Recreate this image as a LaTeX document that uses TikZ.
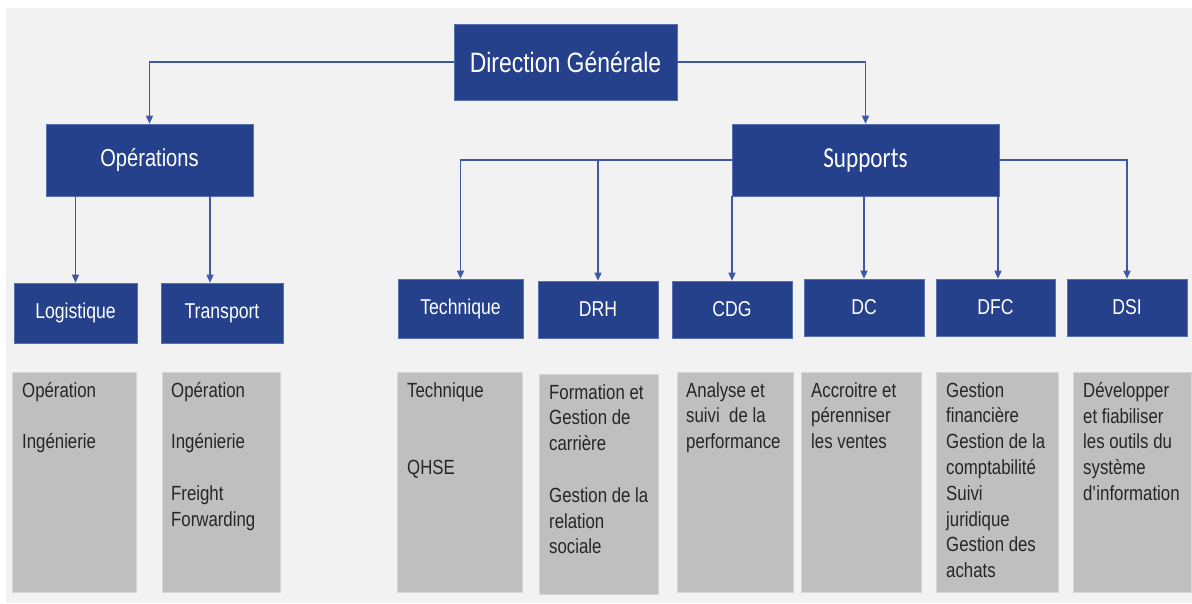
\documentclass[tikz,border=0pt]{standalone}
\usepackage{fontspec}
\setmainfont{Liberation Sans}[FakeStretch=0.82]
\newfontfamily\calibri{Carlito}[FakeStretch=0.8]
\definecolor{bleudir}{RGB}{ 38, 65,140}
\definecolor{bleulien}{RGB}{ 63, 88,165}
\definecolor{bordbleu}{RGB}{ 88,112,176}
\definecolor{fondgris}{RGB}{242,242,242}
\definecolor{boitegris}{RGB}{191,191,191}
\definecolor{bordgris}{RGB}{214,214,214}
\definecolor{encre}{RGB}{ 38, 38, 38}
\usetikzlibrary{arrows.meta, positioning}

\begin{document}
\begin{tikzpicture}[
    x = 1pt, y = -1pt,
 chef/.style = {rectangle, draw=bordbleu, line width=0.6pt, fill=bleudir,
                text=white, inner sep=0pt, minimum width=#1},
 pole/.style = {chef=#1, minimum height=57pt,
                font=\fontsize{21.5}{26}\selectfont},
tache/.style = {rectangle, draw=bordgris, line width=0.6pt, fill=boitegris,
                anchor=north west, inner sep=0pt, minimum width=#1,
                minimum height=220pt},
liste/.style = {anchor=north west, align=left, inner sep=0pt, text=encre,
                font=\fontsize{20.5}{25.8}\selectfont},
 lien/.style = {draw=bleulien, line width=1.4pt,
                -{Triangle[width=7pt,length=8pt]}}
                 ]

\fill[white] (0,0) rectangle (1192,603);
\fill[fondgris] (6,8) rectangle (1192,603);
\useasboundingbox (0,0) rectangle (1192,603);

\node[chef=223, minimum height=76pt, font=\fontsize{28}{32}\selectfont]
     (dg) at (565.5,62) {Direction Générale};
\node[chef=207, minimum height=72pt, font=\fontsize{24.5}{28}\selectfont]
     (ops) at (149.5,160) {Opérations};
\node[chef=267, minimum height=72pt, font=\calibri\fontsize{29}{32}\selectfont]
     (sup) at (865.5,160) {Supports};

\node[pole=123, minimum height=60pt] (log) at (75.5,313)   {Logistique};
\node[pole=122, minimum height=60pt] (trp) at (222,313)    {Transport};
\node[pole=125, minimum height=59pt] (tec) at (460.5,308.5) {Technique};
\node[pole=120] (drh) at (598,309.5)  {DRH};
\node[pole=120] (cdg) at (732,309.5)  {CDG};
\node[pole=120] (dc)  at (864,307.5)  {DC};
\node[pole=119] (dfc) at (995.5,307.5) {DFC};
\node[pole=120] (dsi) at (1127,307.5) {DSI};

\node[tache=124] (logT) at (12,372)  {};
\node[tache=118] (trpT) at (162,372) {};
\node[tache=125] (tecT) at (397,372) {};
\node[tache=119] (drhT) at (539,374) {};
\node[tache=116] (cdgT) at (677,372) {};
\node[tache=120] (dcT)  at (801,372) {};
\node[tache=122] (dfcT) at (936,372) {};
\node[tache=118] (dsiT) at (1073,372) {};

\node[liste] (logL) at ([xshift=10pt,yshift=-10pt]logT.north west)
     {Opération\\[25.8pt]Ingénierie};
\node[liste] (trpL) at ([xshift=9pt,yshift=-10pt]trpT.north west)
     {Opération\\[25.8pt]Ingénierie\\[25.8pt]Freight\\Forwarding};
\node[liste] (tecL) at ([xshift=10pt,yshift=-10pt]tecT.north west)
     {Technique\\[51.6pt]QHSE};
\node[liste] (drhL) at ([xshift=10pt,yshift=-10pt]drhT.north west)
     {Formation et\\Gestion de\\carrière\\[25.8pt]Gestion de la\\relation\\sociale};
\node[liste] (cdgL) at ([xshift=9pt,yshift=-10pt]cdgT.north west)
     {Analyse et\\suivi\ \ de la\\performance};
\node[liste] (dcL)  at ([xshift=10pt,yshift=-10pt]dcT.north west)
     {Accroitre et\\pérenniser\\les ventes};
\node[liste] (dfcL) at ([xshift=10pt,yshift=-10pt]dfcT.north west)
     {Gestion\\financière\\Gestion de la\\comptabilité\\Suivi\\juridique\\Gestion des\\achats};
\node[liste] (dsiL) at ([xshift=10pt,yshift=-10pt]dsiT.north west)
     {Développer\\et fiabiliser\\les outils du\\système\\d\textquotesingle{}information};

\coordinate (trpIn) at ([xshift=-12pt]trp.north);
\coordinate (dfcIn) at ([xshift=2.5pt]dfc.north);

\draw[lien] (dg.west) -| (ops.north);
\draw[lien] (dg.east) -| (sup.north);
\draw[lien] (ops.south -| log.north) -- (log.north);
\draw[lien] (ops.south -| trpIn) -- (trpIn);
\draw[lien] (sup.west) -| (tec.north);
\draw[lien] (sup.west -| drh.north) -- (drh.north);
\draw[lien] (sup.south -| cdg.north) -- (cdg.north);
\draw[lien] (sup.south -| dc.north) -- (dc.north);
\draw[lien] (sup.south -| dfcIn) -- (dfcIn);
\draw[lien] (sup.east) -| (dsi.north);
\end{tikzpicture}
\end{document}
